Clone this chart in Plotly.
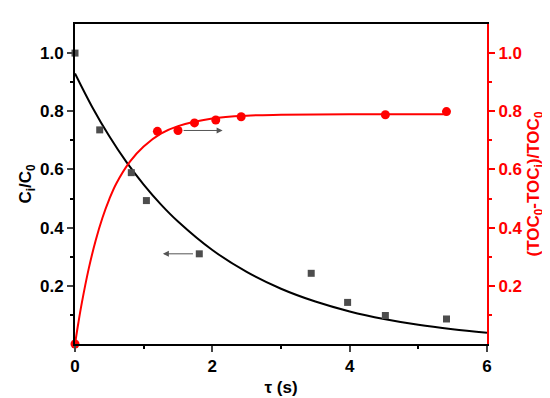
import plotly.graph_objects as go

# Measured data
tau_c = [0.0, 0.36, 0.82, 1.04, 1.81, 3.44, 3.97, 4.52, 5.41]
c_ratio = [1.0, 0.736, 0.589, 0.493, 0.310, 0.243, 0.143, 0.098, 0.086]

tau_toc = [0.0, 1.20, 1.50, 1.74, 2.05, 2.42, 4.52, 5.41]
toc_ratio = [0.0, 0.731, 0.734, 0.760, 0.770, 0.781, 0.788, 0.799]

# Fitted curves
fit_c_tau = [0, 0.25, 0.5, 0.75, 1.0, 1.25, 1.5, 2.0, 2.5, 3.0, 3.5, 4.0, 4.5, 5.0, 5.5, 6.0]
fit_c_val = [0.93, 0.815, 0.714, 0.625, 0.548, 0.480, 0.421, 0.323, 0.248, 0.190, 0.146,
             0.112, 0.086, 0.066, 0.051, 0.039]

fit_t_tau = [0, 0.05, 0.1, 0.2, 0.3, 0.4, 0.5, 0.6, 0.8, 1.0, 1.25, 1.5, 2.0, 2.5, 3.0, 4.0, 5.41]
fit_t_val = [0.0, 0.074, 0.142, 0.259, 0.355, 0.434, 0.498, 0.551, 0.627, 0.679, 0.723,
             0.749, 0.775, 0.785, 0.788, 0.790, 0.790]

yticks = [0.2, 0.4, 0.6, 0.8, 1.0]
yminor = [0.1, 0.3, 0.5, 0.7, 0.9]
xticks = [0, 2, 4, 6]
xminor = [1, 3, 5]

FONT = "Liberation Sans, Arial, sans-serif"
RED = "#ff0000"

fig = go.Figure()
fig.add_trace(go.Scatter(x=fit_c_tau, y=fit_c_val, mode="lines", line=dict(color="black", width=2, shape="spline"),
                         showlegend=False, hoverinfo="skip"))
fig.add_trace(go.Scatter(x=fit_t_tau, y=fit_t_val, mode="lines", line=dict(color=RED, width=2, shape="spline"),
                         yaxis="y2", showlegend=False, hoverinfo="skip"))
fig.add_trace(go.Scatter(x=tau_c, y=c_ratio, mode="markers", marker=dict(symbol="square", size=7, color="#4d4d4d"),
                         cliponaxis=False, showlegend=False))
fig.add_trace(go.Scatter(x=tau_toc, y=toc_ratio, mode="markers", marker=dict(symbol="circle", size=9, color=RED),
                         yaxis="y2", cliponaxis=False, showlegend=False))

# arrows
fig.add_annotation(x=1.28, y=0.31, ax=1.74, ay=0.31, xref="x", yref="y", axref="x", ayref="y",
                   showarrow=True, arrowhead=2, arrowsize=1.2, arrowwidth=1, arrowcolor="#555555", text="")
fig.add_annotation(x=2.15, y=0.734, ax=1.56, ay=0.734, xref="x", yref="y", axref="x", ayref="y",
                   showarrow=True, arrowhead=2, arrowsize=1.2, arrowwidth=1, arrowcolor="#555555", text="")

fig.update_layout(
    width=550, height=398,
    margin=dict(l=67, r=71, t=16, b=51),
    plot_bgcolor="white", paper_bgcolor="white",
    font=dict(family=FONT, size=17, color="black", weight="bold"),
    xaxis=dict(range=[0, 6], tickmode="array", tickvals=xticks, ticks="outside", ticklen=6, tickwidth=2,
               showline=True, linewidth=2, linecolor="black", mirror=True, showgrid=False, zeroline=False,
               minor=dict(tickmode="array", tickvals=xminor, ticks="outside", ticklen=3, tickwidth=2, tickcolor="black"),
               title=dict(text="τ (s)", standoff=6, font=dict(size=17, weight="bold")),
               tickfont=dict(size=17, weight="bold")),
    yaxis=dict(range=[0, 1.1], tickmode="array", tickvals=yticks, ticktext=[f"{v:.1f}" for v in yticks],
               ticks="outside", ticklen=6, tickwidth=2,
               showline=True, linewidth=2, linecolor="black", showgrid=False, zeroline=False,
               minor=dict(tickmode="array", tickvals=yminor, ticks="outside", ticklen=3, tickwidth=2, tickcolor="black"),
               title=dict(text="C<sub>i</sub>/C<sub>0</sub>", standoff=4, font=dict(size=17, weight="bold")),
               tickfont=dict(size=17, weight="bold")),
    yaxis2=dict(range=[0, 1.1], overlaying="y", side="right", tickmode="array", tickvals=yticks,
                ticktext=[f"{v:.1f}" for v in yticks], ticks="outside", ticklen=6, tickwidth=2, tickcolor=RED,
                showline=True, linewidth=2, linecolor=RED, showgrid=False, zeroline=False,
                minor=dict(tickmode="array", tickvals=yminor, ticks="outside", ticklen=3, tickwidth=2, tickcolor=RED),
                title=dict(text="(TOC<sub>0</sub>-TOC<sub>i</sub>)/TOC<sub>0</sub>", standoff=6,
                           font=dict(size=17, color=RED, weight="bold")),
                tickfont=dict(size=17, color=RED, weight="bold")),
)

fig.write_html("out.html")
